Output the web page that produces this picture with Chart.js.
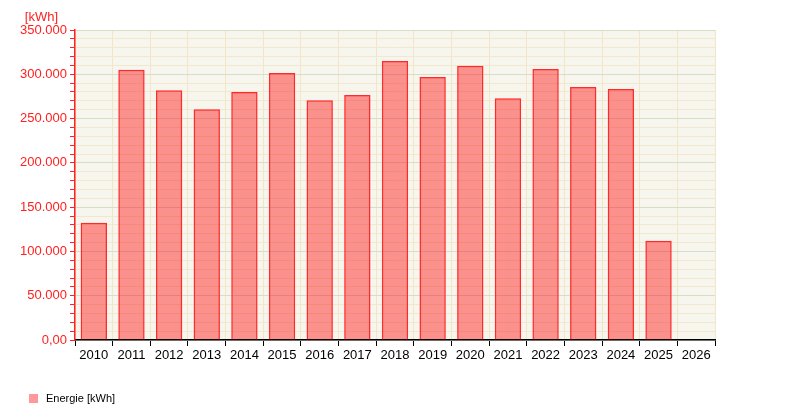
<!DOCTYPE html>
<html>
<head>
<meta charset="utf-8">
<script src="https://cdn.jsdelivr.net/npm/chart.js@4/dist/chart.umd.min.js"></script>
<style>
  html, body { margin: 0; padding: 0; background: #fff; }
  #wrap { position: relative; width: 790px; height: 420px; }
  #legend { position: absolute; left: 29px; top: 392px; font: 11px 'Liberation Sans', Arial, sans-serif; color: #000; }
  #legend span.box { display: inline-block; width: 9px; height: 9px; background: #ff9999; vertical-align: -1px; margin-right: 8px; }
</style>
</head>
<body>
<div id="wrap">
  <canvas id="grafico" width="790" height="420"></canvas>
  <div id="legend"><span class="box"></span>Energie [kWh]</div>
</div>
<script>
const anios = ['2010', '2011', '2012', '2013', '2014', '2015', '2016', '2017', '2018',
  '2019', '2020', '2021', '2022', '2023', '2024', '2025', '2026'];
const energia = [132400, 305000, 282000, 260600, 280000, 301400, 270800, 276500, 315000,
  297000, 309700, 273000, 306000, 285600, 283300, 112000, null];
const yEtiquetas = ['0,00', '50.000', '100.000', '150.000', '200.000', '250.000', '300.000', '350.000'];
const unidad = '[kWh]';

const fuente = "'Liberation Sans', Arial, sans-serif";

// fondo del área del gráfico + etiqueta de unidad
const fondoPlugin = {
  id: 'fondo',
  beforeDraw(chart) {
    const { ctx, chartArea: a } = chart;
    ctx.save();
    ctx.fillStyle = '#f6f6ef';
    ctx.fillRect(a.left, a.top, a.right - a.left, a.bottom - a.top);
    ctx.restore();
  },
  afterDraw(chart) {
    const { ctx, chartArea: a } = chart;
    ctx.save();
    ctx.fillStyle = '#ff2020';
    ctx.font = '13px ' + fuente;
    ctx.textAlign = 'right';
    ctx.textBaseline = 'middle';
    ctx.fillText(unidad, a.left - 17, 17);
    ctx.restore();
  }
};

new Chart(document.getElementById('grafico').getContext('2d'), {
  type: 'bar',
  data: {
    labels: anios,
    datasets: [{
      label: 'Energie [kWh]',
      data: energia,
      backgroundColor: 'rgba(255,0,0,0.41)',
      borderColor: '#ff2a2a',
      borderWidth: 1.5,
      borderSkipped: 'bottom',
      categoryPercentage: 1,
      barPercentage: 0.7
    }]
  },
  options: {
    responsive: false,
    animation: false,
    layout: { padding: { top: 30, right: 75, bottom: 55, left: 0 } },
    plugins: { legend: { display: false }, tooltip: { enabled: false } },
    scales: {
      x: {
        offset: true,
        grid: {
          offset: true,
          color: '#f2e6c9',
          lineWidth: 1,
          drawTicks: true,
          tickLength: 6,
          tickColor: '#000'
        },
        border: { color: '#000', width: 1.5 },
        ticks: { color: '#000', font: { family: fuente, size: 13 }, padding: 2, autoSkip: false, maxRotation: 0 },
        afterFit(s) { s.height = 25; }
      },
      y: {
        min: 0,
        max: 350000,
        grid: {
          color: c => (c.tick && c.tick.value % 50000 === 0) ? '#dadcc6' : '#f3e8cd',
          lineWidth: 1,
          tickLength: 5,
          tickColor: '#ff2020'
        },
        border: { color: '#ff2020', width: 1.5 },
        ticks: {
          stepSize: 10000,
          autoSkip: false,
          color: '#ff2020',
          font: { family: fuente, size: 13 },
          padding: 3,
          callback: v => v % 50000 === 0 ? yEtiquetas[v / 50000] : ''
        },
        afterFit(s) { s.width = 75; }
      }
    }
  },
  plugins: [fondoPlugin]
});
</script>
</body>
</html>
